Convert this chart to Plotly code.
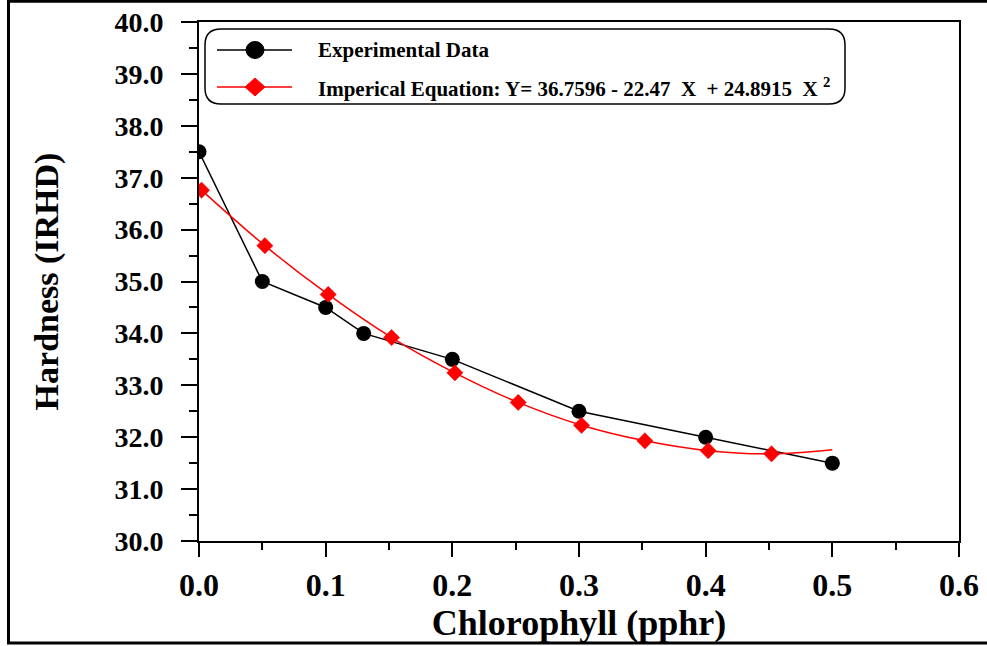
import plotly.graph_objects as go

# ---- data ----
exp_x = [0.0, 0.05, 0.10, 0.13, 0.20, 0.30, 0.40, 0.50]
exp_y = [37.5, 35.0, 34.5, 34.0, 33.5, 32.5, 32.0, 31.5]

fit_x = [0.002, 0.052, 0.102, 0.152, 0.202, 0.252, 0.302, 0.352, 0.402, 0.452, 0.500]
fit_y = [36.76, 35.69, 34.75, 33.92, 33.24, 32.67, 32.23, 31.93, 31.74, 31.68, 31.76]
fit_marker_shown = [1, 1, 1, 1, 1, 1, 1, 1, 1, 1, 0]

x_ticks = [0.0, 0.1, 0.2, 0.3, 0.4, 0.5, 0.6]
y_ticks = [30, 31, 32, 33, 34, 35, 36, 37, 38, 39, 40]

legend_labels = [
    "Experimental Data",
    "Imperical Equation: Y= 36.7596 - 22.47\u00a0\u00a0X\u00a0\u00a0+ 24.8915\u00a0\u00a0X\u00a0<sup>2</sup>",
]

FONT = "Liberation Serif"
W, H = 987, 646
L, R, T, B = 199, 28, 22, 105
PW, PH = W - L - R, H - T - B


def px(x):
    return (x - L) / PW


def py(y):
    return (H - B - y) / PH


fig = go.Figure()
fig.add_trace(go.Scatter(
    x=exp_x, y=exp_y, mode="lines+markers", name="Experimental Data",
    line=dict(color="black", width=1.5),
    marker=dict(symbol="circle", size=15, color="black", opacity=1, line=dict(width=0)),
    showlegend=False,
))
fig.add_trace(go.Scatter(
    x=fit_x, y=fit_y, mode="lines+markers", name="Imperical Equation",
    line=dict(color="#ff0000", width=1.5, shape="spline"),
    marker=dict(symbol="diamond", size=[12.5 * s for s in fit_marker_shown], color="#ff0000",
                opacity=1, line=dict(width=0.5, color="#ff0000")),
    showlegend=False,
))

shapes = []
# outer frame
shapes.append(dict(type="rect", xref="paper", yref="paper",
                   x0=px(8.5), x1=px(995), y0=py(643), y1=py(1.3),
                   line=dict(color="black", width=3), layer="below"))

# rounded legend box
x0, x1, y0, y1 = px(205), px(845), py(104), py(29)
rx, ry = 16 / PW, 16 / PH
path = (f"M{x0+rx},{y1} L{x1-rx},{y1} Q{x1},{y1} {x1},{y1-ry} "
        f"L{x1},{y0+ry} Q{x1},{y0} {x1-rx},{y0} L{x0+rx},{y0} "
        f"Q{x0},{y0} {x0},{y0+ry} L{x0},{y1-ry} Q{x0},{y1} {x0+rx},{y1} Z")
shapes.append(dict(type="path", xref="paper", yref="paper", path=path,
                   line=dict(color="black", width=1.5)))

rows = [50, 87]
colors = ["black", "#ff0000"]
for i, (yy, c) in enumerate(zip(rows, colors)):
    shapes.append(dict(type="line", xref="paper", yref="paper",
                       x0=px(217), x1=px(292), y0=py(yy), y1=py(yy),
                       line=dict(color=c, width=1.5)))
    if i == 0:
        shapes.append(dict(type="circle", xref="paper", yref="paper",
                           xsizemode="pixel", ysizemode="pixel",
                           xanchor=px(255), yanchor=py(yy),
                           x0=-9, x1=9, y0=-8.5, y1=8.5,
                           fillcolor=c, line=dict(color=c, width=1)))
    else:
        shapes.append(dict(type="path", xref="paper", yref="paper",
                           xsizemode="pixel", ysizemode="pixel",
                           xanchor=px(255), yanchor=py(yy),
                           path="M0,9 L10,0 L0,-9 L-10,0 Z",
                           fillcolor=c, line=dict(color=c, width=1)))

annotations = []
for lab, yy in zip(legend_labels, rows):
    annotations.append(dict(xref="paper", yref="paper", x=px(316), y=py(yy),
                            xanchor="left", yanchor="middle", showarrow=False,
                            text=lab, font=dict(family=FONT, size=21, color="black", weight="bold")))

fig.update_layout(
    width=W, height=H,
    margin=dict(l=L, r=R, t=T, b=B, pad=0, autoexpand=False),
    paper_bgcolor="white", plot_bgcolor="white",
    shapes=shapes, annotations=annotations,
    showlegend=False,
    xaxis=dict(
        range=[0, 0.6], tickvals=x_ticks, tickformat=".1f", automargin=False,
        showgrid=False, zeroline=False,
        showline=True, linecolor="black", linewidth=2, mirror=True,
        ticks="outside", ticklen=14, tickwidth=2, tickcolor="black",
        minor=dict(dtick=0.05, ticks="outside", ticklen=7, tickwidth=2, tickcolor="black", showgrid=False),
        tickfont=dict(family=FONT, size=32, color="black", weight="bold"),
        ticklabelstandoff=1,
        title=dict(text="Chlorophyll (pphr)", standoff=0,
                   font=dict(family=FONT, size=36, color="black", weight="bold")),
    ),
    yaxis=dict(
        range=[30, 40], tickvals=y_ticks, tickformat=".1f", automargin=False,
        showgrid=False, zeroline=False,
        showline=True, linecolor="black", linewidth=2, mirror=True,
        ticks="outside", ticklen=16, tickwidth=2, tickcolor="black",
        minor=dict(dtick=0.5, ticks="outside", ticklen=8, tickwidth=2, tickcolor="black", showgrid=False),
        tickfont=dict(family=FONT, size=28, color="black", weight="bold"),
        ticklabelstandoff=12,
        title=dict(text="Hardness (IRHD)", standoff=46,
                   font=dict(family=FONT, size=34, color="black", weight="bold")),
    ),
)

fig.write_html("out.html", config={"displayModeBar": False},
               post_script="document.body.style.margin='0';")
